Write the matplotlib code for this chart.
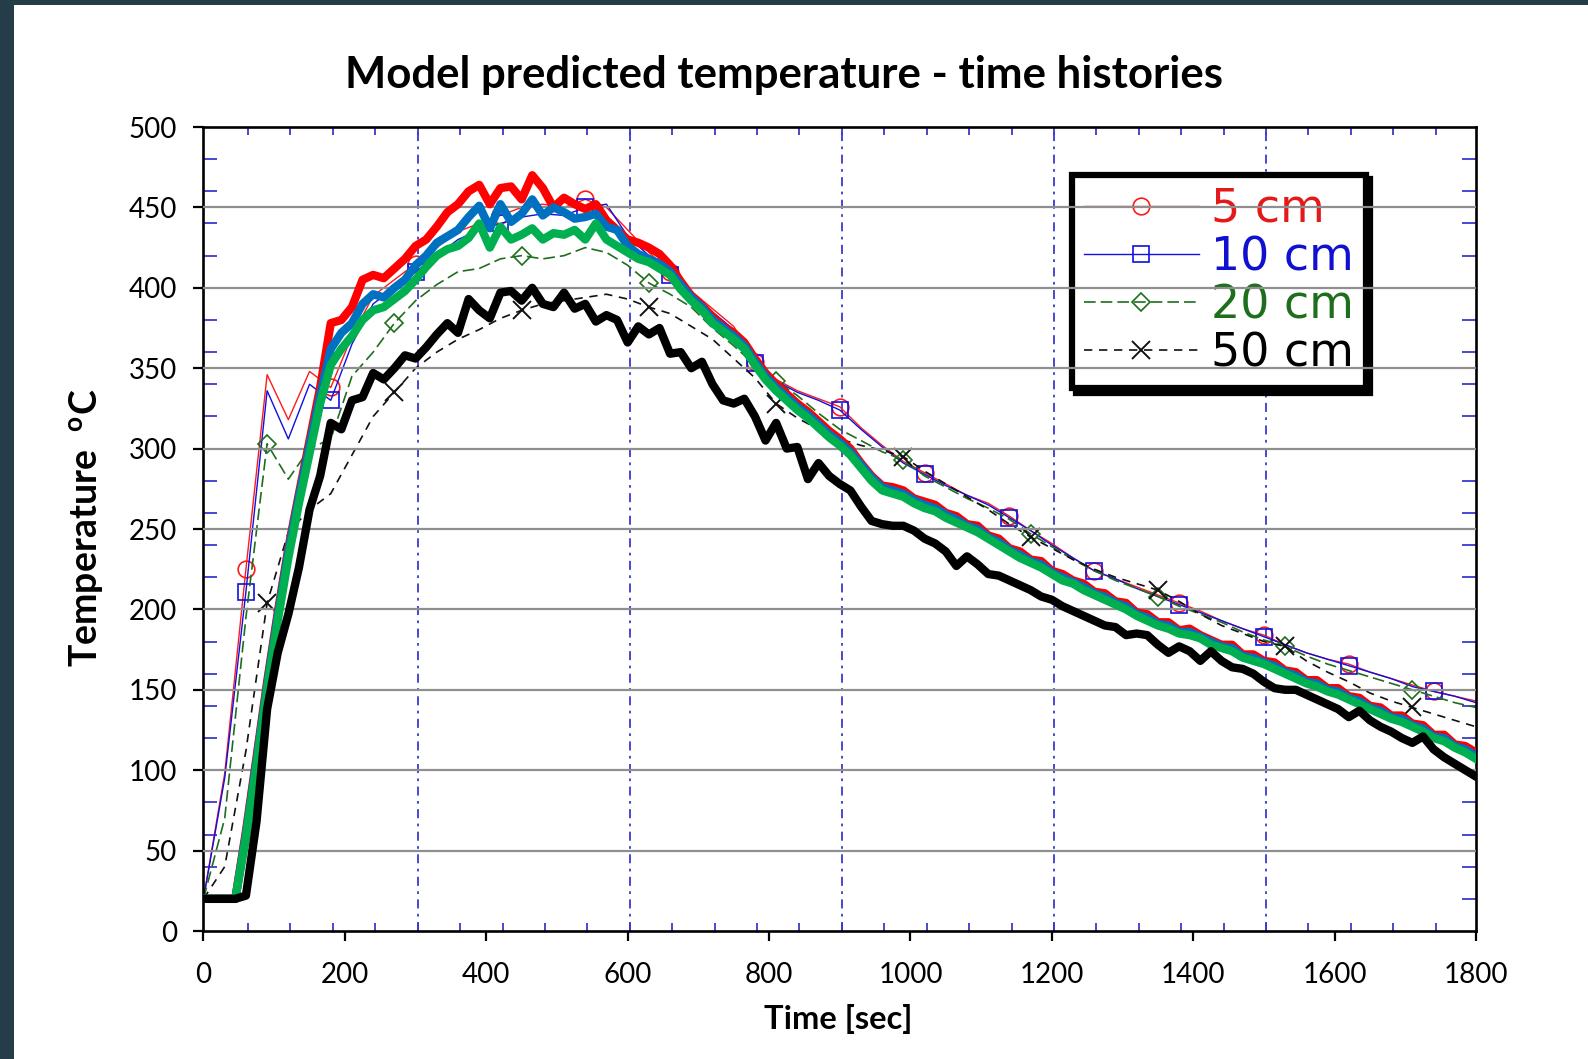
import numpy as np
import matplotlib
matplotlib.use('Agg')
from matplotlib import pyplot as plt
from matplotlib.patches import Rectangle

plt.rcParams['font.family'] = ['Lato', 'DejaVu Sans']

# Model (thick) curves, sampled every 15 s
t_model = np.arange(0, 1801, 15)
red_model = [20, 20, 20, 20, 62, 108, 155, 198, 238, 272, 305, 338, 378, 380, 388, 405, 408, 406, 412,
             418, 426, 430, 438, 447, 452, 460, 464, 452, 462, 463, 455, 470, 462, 450, 456, 452, 449,
             452, 442, 436, 430, 428, 425, 421, 414, 404, 395, 389, 382, 376, 372, 366, 356, 347, 340,
             334, 328, 323, 317, 311, 306, 300, 291, 283, 277, 276, 274, 269, 267, 265, 260,
             258, 253, 252, 246, 244, 238, 236, 231, 230, 224, 222, 218, 216, 211, 210, 205, 204, 198,
             197, 192, 192, 187, 188, 184, 181, 178, 178, 172, 172, 168, 167, 162, 161, 156, 156, 151,
             151, 146, 145, 140, 139, 134, 134, 129, 128, 122, 122, 116, 115, 111]
blue_model = [20, 20, 20, 20, 60, 106, 153, 196, 236, 270, 302, 333, 362, 372, 378, 390, 396, 394, 400,
              405, 414, 420, 428, 432, 436, 444, 451, 437, 452, 441, 446, 455, 445, 450, 447, 443, 444,
              446, 438, 436, 426, 421, 418, 415, 410, 402, 394, 388, 380, 375, 370, 364, 354, 345, 338,
              332, 326, 321, 315, 309, 304, 298, 290, 282, 276, 274, 272, 268, 265, 263, 259,
              256, 252, 250, 245, 242, 237, 234, 230, 228, 223, 220, 217, 214, 210, 208, 204, 202, 197,
              195, 191, 190, 186, 186, 183, 180, 177, 176, 171, 170, 167, 165, 161, 159, 155, 154, 150,
              149, 145, 143, 139, 137, 133, 132, 128, 126, 121, 120, 115, 113, 109]
green_model = [20, 20, 20, 20, 58, 103, 150, 193, 232, 266, 297, 328, 352, 362, 370, 380, 386, 388, 393,
               398, 405, 413, 420, 424, 426, 431, 440, 425, 438, 430, 433, 437, 430, 434, 433, 436, 430,
               440, 430, 426, 422, 418, 416, 412, 408, 399, 392, 386, 378, 373, 368, 362, 352, 343, 336,
               330, 324, 319, 313, 307, 302, 296, 288, 280, 274, 272, 270, 266, 263, 261, 257,
               254, 251, 248, 244, 240, 236, 232, 229, 226, 222, 218, 216, 212, 209, 206, 203, 200, 196,
               193, 190, 188, 185, 184, 182, 178, 176, 174, 170, 168, 166, 163, 160, 157, 154, 152, 149,
               147, 144, 141, 138, 135, 132, 130, 127, 124, 120, 118, 114, 111, 107]
black_model = [20, 20, 20, 20, 22, 68, 138, 173, 197, 226, 262, 283, 316, 312, 330, 332, 347, 343, 350,
               358, 356, 363, 371, 378, 372, 393, 386, 381, 397, 398, 392, 400, 390, 388, 397, 387, 390,
               379, 383, 380, 366, 376, 371, 375, 359, 360, 350, 354, 340, 330, 328, 331, 320, 305, 316,
               300, 301, 281, 291, 283, 278, 274, 264, 255, 253, 252, 252, 249, 244, 241, 236,
               227, 233, 228, 222, 221, 218, 215, 212, 208, 206, 202, 199, 196, 193, 190, 189, 184, 185,
               184, 178, 173, 177, 174, 168, 174, 168, 164, 163, 160, 155, 151, 150, 150, 147, 144, 141,
               138, 133, 137, 131, 127, 124, 120, 117, 121, 113, 108, 104, 100, 96]

# Measured (thin, with markers) curves, sampled every 30 s
t_meas = np.arange(0, 1801, 30)
red_meas = [20, 98, 225, 346, 318, 348, 338, 370, 395, 405, 415, 425, 435, 440, 445, 450, 452, 450, 455,
            450, 436, 422, 410, 398, 387, 376, 354, 343, 336, 331, 326, 313, 302, 292, 285, 278, 271,
            266, 258, 249, 241, 232, 224, 219, 214, 209, 204, 199, 193, 188, 184, 178, 173, 169, 166,
            161, 157, 153, 149, 146, 143]
blue_meas = [20, 95, 211, 336, 306, 340, 330, 365, 390, 400, 410, 420, 430, 436, 440, 444, 446, 445, 450,
             452, 432, 420, 408, 396, 385, 374, 353, 342, 335, 330, 324, 312, 301, 291, 284, 277, 271,
             265, 257, 249, 240, 232, 224, 219, 213, 208, 203, 198, 193, 188, 183, 178, 173, 169, 165,
             161, 157, 152, 149, 146, 142]
green_meas = [20, 70, 195, 303, 281, 300, 306, 345, 360, 378, 392, 402, 410, 412, 418, 420, 418, 420, 425,
              422, 414, 403, 396, 388, 375, 364, 352, 342, 333, 322, 312, 305, 298, 293, 283, 276, 269,
              263, 256, 247, 239, 231, 224, 218, 213, 208, 202, 197, 192, 186, 181, 177, 171, 166, 162,
              158, 154, 150, 146, 142, 139]
black_meas = [20, 40, 112, 204, 248, 262, 272, 296, 320, 335, 350, 360, 368, 374, 381, 386, 390, 392, 394,
              396, 393, 388, 384, 376, 368, 356, 344, 328, 319, 312, 306, 302, 299, 295, 286, 278, 270,
              262, 253, 245, 238, 231, 225, 220, 216, 212, 205, 197, 190, 185, 180, 177, 168, 161, 155,
              148, 143, 139, 135, 131, 127]
labels = ['5 cm', '10 cm', '20 cm', '50 cm']

# marker indices on the 30 s grid
mark_a = list(range(2, 61, 4))   # 60, 180, 300 ... s
mark_b = list(range(3, 61, 6))   # 90, 270, 450 ... s

W, H = 1588, 1059
fig = plt.figure(figsize=(W / 100, H / 100), dpi=100, facecolor='#253c49')
fig.patches.append(Rectangle((14 / W, 0), 1 - 14 / W, 1 - 5 / H, transform=fig.transFigure,
                             facecolor='white', edgecolor='none', zorder=-10))

pos = [203.5 / W, (H - 931) / H, (1476 - 203.5) / W, (931 - 127) / H]

# old chart underneath: blue grid and inward ticks (its time axis sits ~3 s to the right)
ax_old = fig.add_axes(pos, frameon=False)
ax_old.set_xlim(-3, 1797)
ax_old.set_ylim(0, 500)
ax_old.set_xticks(np.arange(60, 1800, 60))
ax_old.set_yticks(np.arange(20, 500, 20))
ax_old.tick_params(direction='in', color='#3a3ad0', width=1.3, length=10,
                   top=True, right=True, labelbottom=False, labelleft=False)
ax_old.tick_params(axis='x', length=6)
for v in [300, 600, 900, 1200, 1500]:
    ax_old.axvline(v, color='#3a3ad0', lw=1.3, ls=(0, (5, 3, 1.5, 3)))
for v in [100, 200, 300, 400]:
    ax_old.axhline(v, color='#3a3ad0', lw=1.3, ls=(0, (5, 3)))
ax_old.set_zorder(0)

ax = fig.add_axes(pos)
ax.set_zorder(1)
ax.patch.set_visible(False)

l1, = ax.plot(t_meas, red_meas, color='#ff1a1a', lw=1.0, marker='o', ms=12, mfc='none', mew=1.2,
              markevery=mark_a, zorder=2)
l2, = ax.plot(t_meas, blue_meas, color='#1010e0', lw=1.0, marker='s', ms=12, mfc='none', mew=1.2,
              markevery=mark_a, zorder=2)
l3, = ax.plot(t_meas, green_meas, color='#1e6e1e', lw=1.2, ls=(0, (7, 3)), marker='D', ms=9, mfc='none',
              mew=1.2, markevery=mark_b, zorder=2)
l4, = ax.plot(t_meas, black_meas, color='#111111', lw=1.2, ls=(0, (5, 4)), marker='x', ms=13, mew=1.4,
              markevery=mark_b, zorder=2)

leg = ax.legend([l1, l2, l3, l4], labels, loc='upper left',
                bbox_to_anchor=(1072 / W, 1 - 175 / H), bbox_transform=fig.transFigure,
                prop={'family': 'DejaVu Sans', 'size': 33}, fancybox=False, framealpha=1,
                edgecolor='black', borderpad=0.26, labelspacing=0.07, handlelength=2.5,
                handletextpad=0.27, borderaxespad=0,
                labelcolor=['#e41a1a', '#1010d0', '#1e6e1e', 'black'],
                shadow={'ox': 3, 'oy': -3, 'color': 'black', 'alpha': 1})
leg.get_frame().set_linewidth(4.5)
leg.set_zorder(2.5)

# new chart grid (gray)
for v in range(50, 500, 50):
    ax.axhline(v, color='#8f8f8f', lw=1.6, zorder=3)

ax.plot(t_model, red_model, color='#ff0000', lw=6, zorder=4, solid_joinstyle='round')
ax.plot(t_model, blue_model, color='#0070c0', lw=6, zorder=5, solid_joinstyle='round')
ax.plot(t_model, green_model, color='#00b050', lw=6, zorder=6, solid_joinstyle='round')
ax.plot(t_model, black_model, color='black', lw=6, zorder=7, solid_joinstyle='round')

ax.set_xlim(0, 1800)
ax.set_ylim(0, 500)
ax.set_xticks(range(0, 1801, 200))
ax.set_yticks(range(0, 501, 50))
ax.tick_params(direction='out', length=7, width=1.6, colors='black', labelsize=20)
ax.tick_params(axis='x', pad=15.5)
ax.tick_params(axis='y', pad=12)
for s in ax.spines.values():
    s.set_linewidth(1.9)
    s.set_color('black')

fig.text(0.494, 1 - 88 / H, 'Model predicted temperature - time histories',
         fontsize=31.5, fontweight='bold', ha='center', va='baseline')
fig.text(838.6 / W, 1 - 1019 / H, 'Time [sec]', fontsize=23.5, fontweight='bold',
         ha='center', va='center')
fig.text(87 / W, 1 - 528 / H, r'Temperature  $^\mathregular{o}$C', fontsize=27, fontweight='bold',
         rotation=90, ha='center', va='center')

fig.savefig('out.png', dpi=100, facecolor=fig.get_facecolor())
